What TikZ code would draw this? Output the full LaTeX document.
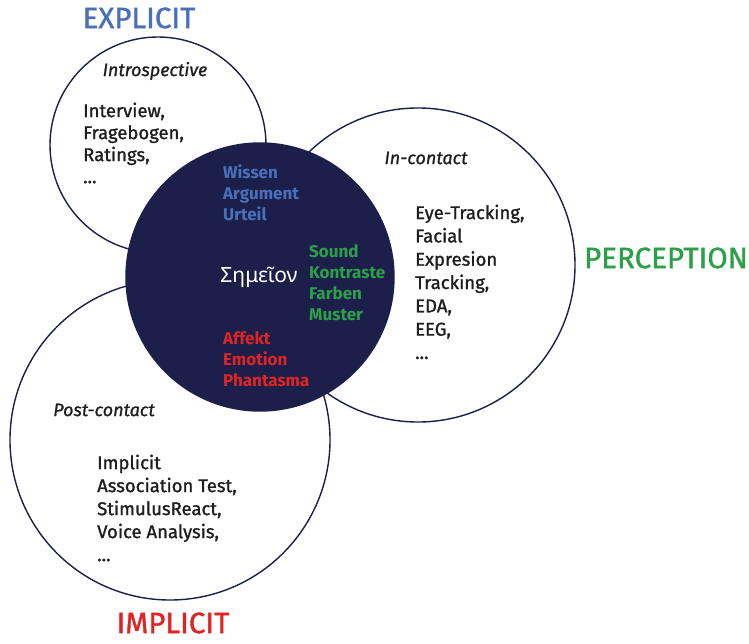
\documentclass[tikz,border=0pt]{standalone}
\usepackage{fontspec}
\setmainfont{Fira Sans}
\newfontfamily\medfont[FakeBold=1.2]{Fira Sans}
\newfontfamily\meditfont[FakeBold=1.0]{Fira Sans Italic}
\newfontfamily\greekfont{Noto Sans}
\definecolor{navy}{HTML}{1B1F4A}
\definecolor{cblue}{HTML}{4A70BC}
\definecolor{cgreen}{HTML}{2CA048}
\definecolor{cred}{HTML}{E02424}
\definecolor{ctext}{HTML}{1E1E1E}
\tikzset{
  ring/.style={draw=navy, line width=1.4pt, fill=white},
  core/.style={draw=navy, line width=1.4pt, fill=navy},
  title/.style={font={\medfont\fontsize{29.5}{31}\selectfont}, inner sep=0pt},
  cat/.style={font={\meditfont\fontsize{18}{20}\selectfont}, text=ctext, inner sep=0pt},
  listtext/.style={anchor=north west, align=left, inner sep=0pt, text=ctext},
  coretext/.style={anchor=north west, align=left, inner sep=0pt, font={\fontsize{17}{21}\selectfont\bfseries}},
}
\begin{document}
\begin{tikzpicture}[x=1pt,y=-1pt]
\useasboundingbox (0,0) rectangle (749,644);
% circles
\node[ring, circle, minimum size=320pt, inner sep=0pt] (post) at (170,440) {};
\node[ring, circle, minimum size=216pt, inner sep=0pt] (intro) at (158,145) {};
\node[ring, circle, minimum size=314pt, inner sep=0pt] (incon) at (418,265) {};
\node[core, circle, minimum size=268pt, inner sep=0pt] (sem) at (260,277) {};
% titles
\node[title, text=cblue] (explicit) at (139,18) {EXPLICIT};
\node[title, text=cgreen] (perception) at (666,258) {PERCEPTION};
\node[title, text=cred] (implicit) at (173,623) {IMPLICIT};
% categories
\node[cat] (introlab) at (155,71) {Introspective};
\node[cat] (inconlab) at (426,158) {In-contact};
\node[cat] (postlab) at (104,410) {Post-contact};
% lists
\node[listtext, font={\medfont\fontsize{18.5}{22}\selectfont}] (introlist) at (83,102.5)
  {Interview,\\Fragebogen,\\Ratings,\\...};
\node[listtext, font={\medfont\fontsize{18.5}{23.3}\selectfont}] (inconlist) at (415,204.5)
  {Eye-Tracking,\\Facial\\Expresion\\Tracking,\\EDA,\\EEG,\\...};
\node[listtext, font={\medfont\fontsize{18.5}{23}\selectfont}] (postlist) at (97,454.5)
  {Implicit\\Association Test,\\StimulusReact,\\Voice Analysis,\\...};
% core texts
\node[coretext, text=cblue] (knowledge) at (223,165) {Wissen\\Argument\\Urteil};
\node[coretext, text=cgreen] (senses) at (309,244) {Sound\\Kontraste\\Farben\\Muster};
\node[coretext, text=cred] (affect) at (223,331) {Affekt\\Emotion\\Phantasma};
\node[inner sep=0pt, text=white, font={\greekfont\fontsize{21}{23}\selectfont}] (semeion) at (259,277) {Σημεῖον};
\end{tikzpicture}
\end{document}
